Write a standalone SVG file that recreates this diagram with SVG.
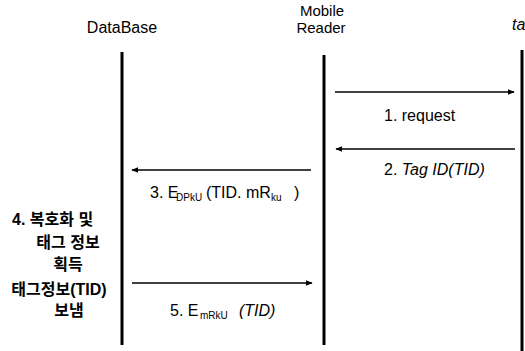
<svg xmlns="http://www.w3.org/2000/svg" width="525" height="351" viewBox="0 0 525 351">
<defs>
<marker id="ah" viewBox="0 0 10 10" refX="9" refY="5" markerWidth="7" markerHeight="7" orient="auto-start-reverse" markerUnits="userSpaceOnUse">
<path d="M0,1 L10,5 L0,9 z" fill="#000"/>
</marker>
<style>
text{font-family:"Liberation Sans","Noto Sans CJK KR",sans-serif;fill:#000}
.lbl{font-size:16px}
.hd{font-size:15px}
.kr{font-size:16px;font-weight:bold}
.life{stroke:#000;stroke-width:3}
.msg{stroke:#000;stroke-width:1.3;fill:none}
.sub{font-size:10px}
</style>
</defs>
<rect width="525" height="351" fill="#fff"/>
<g id="database">
<text class="lbl" x="122" y="33" text-anchor="middle">DataBase</text>
<line class="life" x1="122" y1="52" x2="122" y2="345"/>
</g>
<g id="mobile-reader">
<text class="hd" x="322" y="16" text-anchor="middle">Mobile</text>
<text class="hd" x="321" y="33" text-anchor="middle">Reader</text>
<line class="life" x1="324" y1="55" x2="324" y2="345"/>
</g>
<g id="tag">
<text class="lbl" x="512" y="30" font-style="italic">ta</text>
<line class="life" x1="522" y1="50" x2="522" y2="351"/>
</g>
<g id="db-note">
<text class="kr" x="12" y="225">4. 복호화 및</text>
<text class="kr" x="68" y="248" text-anchor="middle">태그 정보</text>
<text class="kr" x="68" y="270" text-anchor="middle">획득</text>
<text class="kr" x="59" y="295" text-anchor="middle">태그정보(TID)</text>
<text class="kr" x="69" y="316" text-anchor="middle">보냄</text>
</g>
<g id="connectors">
<line class="msg" x1="335" y1="92" x2="514" y2="92" marker-end="url(#ah)"/>
<line class="msg" x1="515" y1="149" x2="336" y2="149" marker-end="url(#ah)"/>
<line class="msg" x1="311" y1="170" x2="132" y2="170" marker-end="url(#ah)"/>
<line class="msg" x1="132" y1="283" x2="312" y2="283" marker-end="url(#ah)"/>
<text class="lbl" x="384" y="121">1. request</text>
<text class="lbl" x="384" y="175">2. <tspan font-style="italic">Tag ID(TID)</tspan></text>
<text class="lbl" x="150" y="198">3. E<tspan class="sub" x="176" dy="3">DPkU</tspan><tspan x="206" dy="-3">(TID. mR</tspan><tspan class="sub" x="271" dy="3">ku</tspan><tspan x="294" dy="-3">)</tspan></text>
<text class="lbl" x="170" y="316">5. E<tspan class="sub" x="200" dy="3" font-size="11">mRkU</tspan><tspan x="239" dy="-3" font-style="italic">(TID)</tspan></text>
</g>
</svg>
